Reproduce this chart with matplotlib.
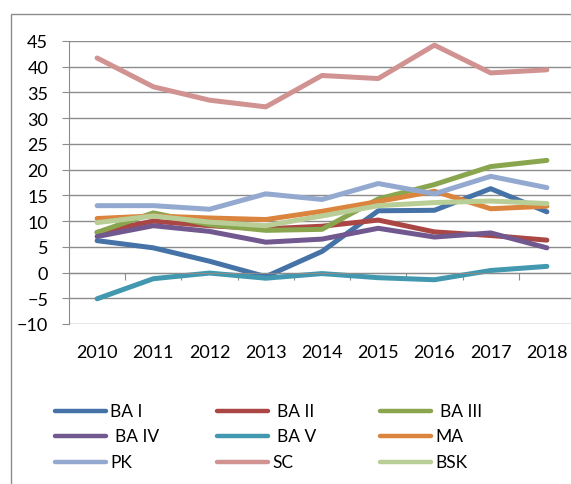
import matplotlib
matplotlib.use("Agg")
import matplotlib.pyplot as plt
import matplotlib.transforms as mtransforms
from matplotlib.lines import Line2D
from matplotlib.patches import Rectangle

plt.rcParams['font.family'] = ['Lato', 'DejaVu Sans']

years = ['2010', '2011', '2012', '2013', '2014', '2015', '2016', '2017', '2018']

ba_i = [6.2, 4.8, 2.2, -0.8, 4.1, 12.0, 12.1, 16.3, 11.8]
ba_ii = [7.8, 10.0, 9.1, 8.5, 9.0, 10.2, 7.9, 7.2, 6.3]
ba_iii = [7.8, 11.6, 9.3, 8.2, 8.4, 14.3, 17.1, 20.6, 21.8]
ba_iv = [7.0, 9.1, 8.0, 5.9, 6.5, 8.6, 6.9, 7.7, 4.8]
ba_v = [-5.1, -1.2, -0.1, -1.1, -0.2, -1.0, -1.4, 0.4, 1.2]
ma = [10.5, 11.0, 10.6, 10.3, 11.9, 13.8, 15.8, 12.4, 12.9]
pk = [13.0, 13.0, 12.3, 15.3, 14.2, 17.3, 15.3, 18.7, 16.5]
sc = [41.7, 36.1, 33.5, 32.2, 38.3, 37.7, 44.2, 38.8, 39.4]
bsk = [9.7, 11.0, 9.8, 9.1, 11.0, 13.0, 13.6, 13.9, 13.4]

names = ['BA I', 'BA II', 'BA III', 'BA IV', 'BA V', 'MA', 'PK', 'SC', 'BSK']
series = [ba_i, ba_ii, ba_iii, ba_iv, ba_v, ma, pk, sc, bsk]
colors = ['#4572A7', '#AA4643', '#89A54E', '#71588F', '#4198AF',
          '#DB843D', '#93A9CF', '#D19392', '#B9CD96']

W, H = 571, 485
fig = plt.figure(figsize=(W / 100, H / 100), dpi=100)

# outer chart frame (runs off the right and bottom edges)
fig.patches.append(Rectangle((11 / W, -0.1), 1.2, 1 - 15 / H + 0.1,
                             transform=fig.transFigure, fill=False,
                             edgecolor='#8c8c8c', linewidth=1.0))

ax = fig.add_axes([69 / W, 1 - 325 / H, 506 / W, 283 / H])
ax.set_xlim(-0.5, 8.5)
ax.set_ylim(-10, 45)
ax.set_yticks(range(-10, 46, 5))
ax.grid(axis='y', color='#8c8c8c', linewidth=1.0)
ax.set_axisbelow(True)

# series drawn in order, last one ends up on top
for vals, col in zip(series, colors):
    ax.plot(range(len(years)), vals, color=col, linewidth=3.6,
            solid_capstyle='round', solid_joinstyle='round')

for s in ['top', 'right']:
    ax.spines[s].set_visible(False)
ax.spines['left'].set_color('#8c8c8c')
ax.spines['bottom'].set_position(('data', 0))
ax.spines['bottom'].set_color('#8c8c8c')

ax.set_xticks([i + 0.5 for i in range(len(years) - 1)])
ax.set_xticklabels([])
ax.tick_params(axis='x', direction='out', length=5, color='#8c8c8c')
ax.tick_params(axis='y', direction='out', length=5, color='#8c8c8c',
               labelsize=13, pad=10)

trans = mtransforms.blended_transform_factory(ax.transData, ax.transAxes)
for i, yr in enumerate(years):
    ax.text(i, -0.1, yr, transform=trans, ha='center', va='center', fontsize=13)

# legend, 3 columns
col_x = [55, 217, 380]
row_y = [412, 437, 463]
lab_dx = [[55, 60, 60], [60, 60, 55], [55, 55, 55]]
for k, name in enumerate(names):
    r, c = divmod(k, 3)
    x0 = col_x[c]
    y0 = 1 - row_y[r] / H
    fig.add_artist(Line2D([x0 / W, (x0 + 51) / W], [y0, y0],
                          transform=fig.transFigure, color=colors[k],
                          linewidth=3.2, solid_capstyle='round'))
    fig.text((x0 + lab_dx[r][c]) / W, y0, name, ha='left', va='center',
             fontsize=12.5)

fig.savefig('out.png', dpi=100)
